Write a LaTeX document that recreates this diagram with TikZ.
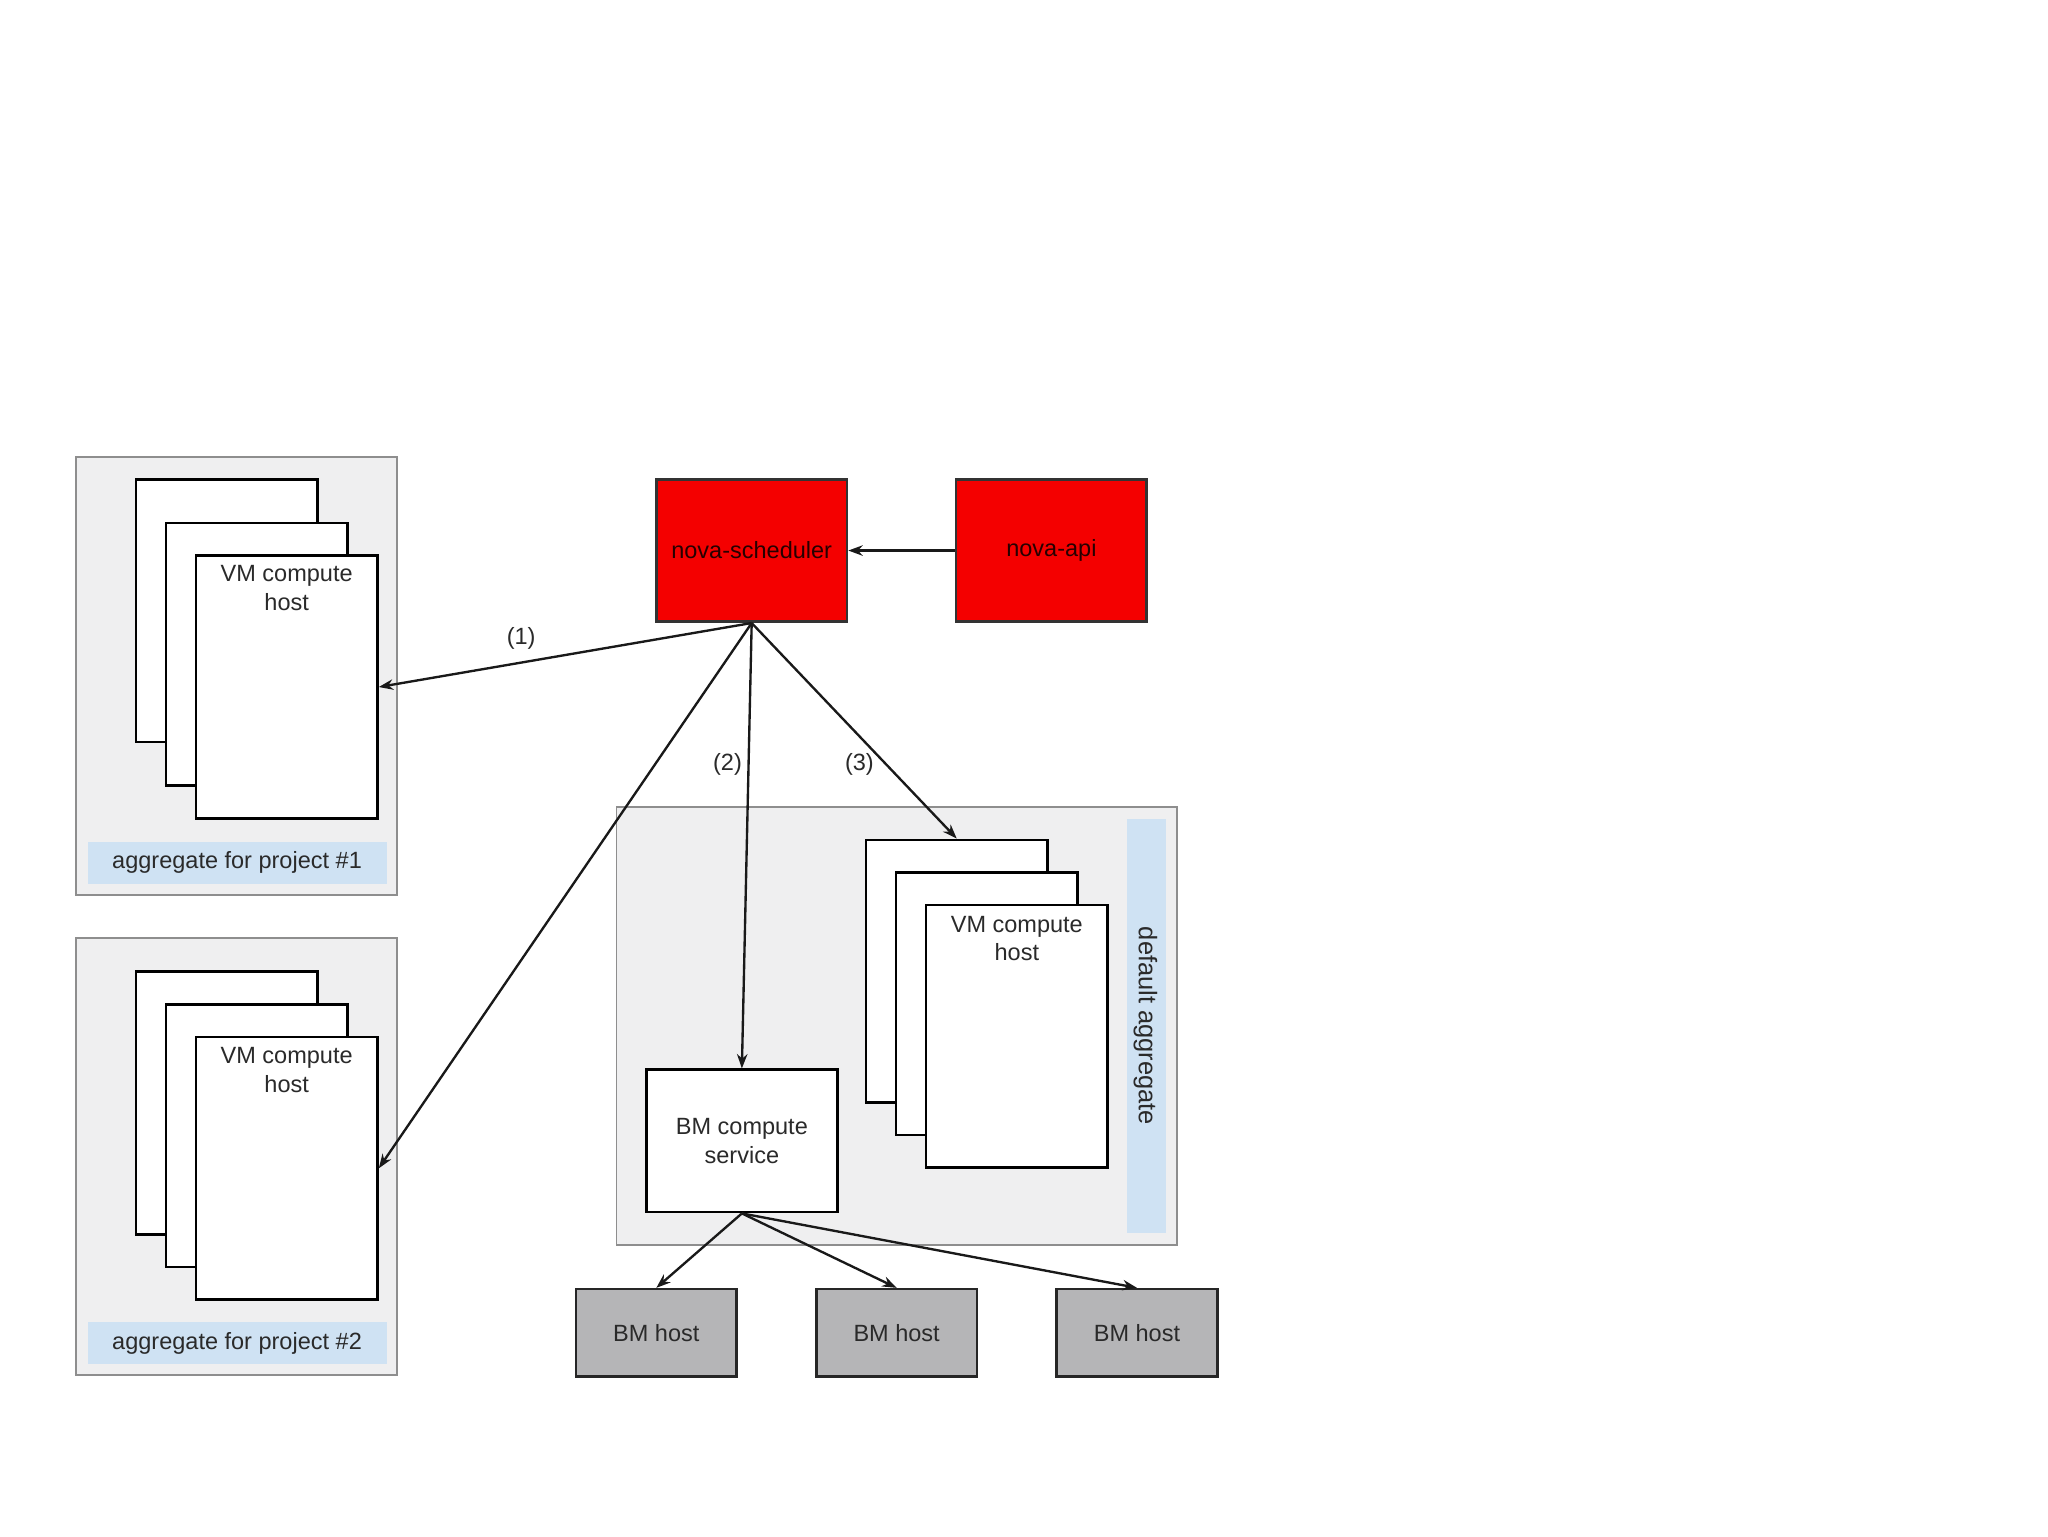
\documentclass[tikz,border=0pt]{standalone}
\usepackage{fontspec}
\setmainfont{Liberation Sans}
\usetikzlibrary{arrows.meta}
\definecolor{agg}{HTML}{EFEFF0}
\definecolor{aggline}{HTML}{8E8E8E}
\definecolor{band}{HTML}{CFE2F3}
\definecolor{txt}{HTML}{2A2A2A}
\definecolor{red1}{HTML}{F40000}
\definecolor{bmgrey}{HTML}{B5B5B7}
\begin{document}
\begin{tikzpicture}[x=1pt,y=-1pt,
  font=\fontsize{18}{22}\selectfont, text=txt,
  aggbox/.style={draw=aggline, fill=agg, line width=1.5pt, inner sep=0pt, minimum width=#1},
  bandbox/.style={fill=band, draw=none, inner sep=0pt},
  sheet/.style={draw=black, fill=white, line width=2pt, inner sep=0pt, minimum width=139pt, minimum height=201pt},
  redbox/.style={draw=black!80, fill=red1, line width=2pt, inner sep=0pt, minimum width=146pt, minimum height=109pt, text=black!85!red},
  svcbox/.style={draw=black, fill=white, line width=2pt, inner sep=0pt, minimum width=146pt, minimum height=109pt, align=center},
  bmbox/.style={draw=black!85, fill=bmgrey, line width=2pt, inner sep=0pt, minimum width=123pt, minimum height=67pt},
  conn/.style={draw=black!90, line width=1.8pt, -{Stealth[length=11pt,width=8pt]}},
  lbl/.style={inner sep=0pt}]
\useasboundingbox (0,0) rectangle (1568,1176);
\fill[white] (0,0) rectangle (1568,1176);

% aggregate for project #1
\node[aggbox=246pt, minimum height=335pt] (agg1) at (181,517.5) {};
\node[bandbox, minimum width=229pt, minimum height=32pt] (band1) at (181.5,660.5) {aggregate for project \#1};
\node[sheet] (a1s1) at (173.5,467.5) {};
\node[sheet] (a1s2) at (196.5,501) {};
\node[sheet] (a1s3) at (219.5,526) {};
\node[lbl, align=center] (a1t) at (219.5,450) {VM compute\\host};

% aggregate for project #2
\node[aggbox=246pt, minimum height=335pt] (agg2) at (181,885.5) {};
\node[bandbox, minimum width=229pt, minimum height=32pt] (band2) at (181.5,1028.5) {aggregate for project \#2};
\node[sheet] (a2s1) at (173.5,844.5) {};
\node[sheet] (a2s2) at (196.5,869.5) {};
\node[sheet] (a2s3) at (219.5,894.5) {};
\node[lbl, align=center] (a2t) at (219.5,819) {VM compute\\host};

% scheduler and api
\node[redbox] (sched) at (575.5,421.5) {nova-scheduler};
\node[redbox] (api) at (805,421.5) {nova-api};

% default aggregate
\node[aggbox=429pt, minimum height=335pt] (dagg) at (686.5,785.5) {};
\node[bandbox, minimum width=30pt, minimum height=317pt] (dband) at (878,785.5) {};
\node[lbl, rotate=-90, font=\fontsize{19.5}{22}\selectfont] (dbandt) at (877,785.5) {default aggregate};
\node[sheet] (ds1) at (732.5,743.5) {};
\node[sheet] (ds2) at (755.5,768.5) {};
\node[sheet] (ds3) at (778.5,793.5) {};
\node[lbl, align=center] (dt) at (778.5,718.5) {VM compute\\host};
\node[svcbox] (bm) at (568,873.5) {BM compute\\service};

% BM hosts
\node[bmbox] (h1) at (502.5,1020.5) {BM host};
\node[bmbox] (h2) at (686.5,1020.5) {BM host};
\node[bmbox] (h3) at (870.5,1020.5) {BM host};

% connectors
\draw[conn] (api.west) -- (sched.east);
\draw[conn] (sched.south) -- (a1s3.east);
\draw[conn] (sched.south) -- (a2s3.east);
\draw[conn] (sched.south) -- (bm.north);
\draw[conn] (sched.south) -- (ds1.north);
\draw[conn] (bm.south) -- (h1.north);
\draw[conn] (bm.south) -- (h2.north);
\draw[conn] (bm.south) -- (h3.north);

\node[lbl] (l1) at (399,489) {(1)};
\node[lbl] (l2) at (557,585) {(2)};
\node[lbl] (l3) at (658,585) {(3)};
\end{tikzpicture}
\end{document}
